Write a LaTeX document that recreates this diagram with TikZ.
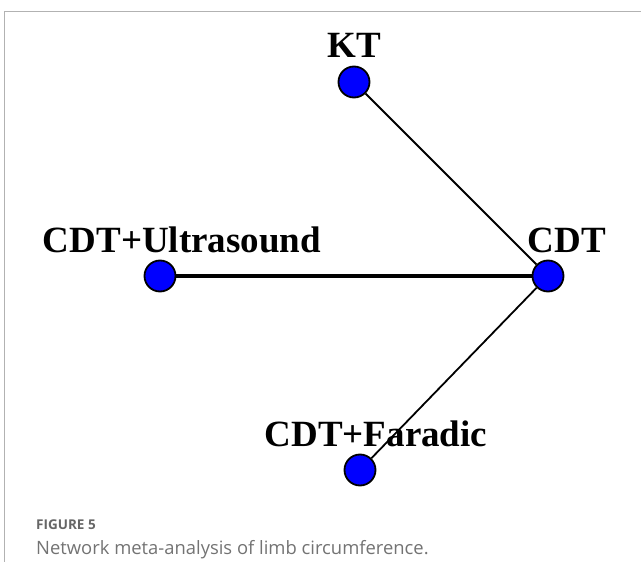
\documentclass[tikz,border=0pt]{standalone}
\usepackage{fontspec}
\setmainfont{Liberation Serif}
\newfontfamily\capfont{Open Sans}
\usepackage{tikz}

\begin{document}
\begin{tikzpicture}[x=1pt,y=-1pt,
    trt/.style={circle, draw=black, line width=1.8pt, fill=blue, minimum size=31pt, inner sep=0pt},
    lbl/.style={font=\fontsize{37}{40}\selectfont\bfseries, inner sep=0pt},
    captext/.style={inner sep=0pt, anchor=west}]
    \useasboundingbox (0,0) rectangle (641,562);
    \draw [black!30, line width=1.2pt] (4.5,562) -- (4.5,11.5) -- (641,11.5);
    % treatments
    \node [trt] (kt) at (354,82) {};
    \node [trt] (cdt) at (548,276) {};
    \node [trt] (us) at (160,276) {};
    \node [trt] (fd) at (360,470) {};
    % comparisons
    \draw [line width=1.8pt] (kt) -- (cdt);
    \draw [line width=3.6pt] (us) -- (cdt);
    \draw [line width=1.8pt] (fd) -- (cdt);
    % names
    \node [lbl] (ktname) at (354,45) {KT};
    \node [lbl] (cdtname) at (567,240) {CDT};
    \node [lbl] (usname) at (182,240) {CDT+Ultrasound};
    \node [lbl] (fdname) at (376,434) {CDT+Faradic};
    % caption
    \node [captext, text=black!60, font=\capfont\bfseries\fontsize{13.5}{16}\selectfont] (fig) at (36,525) {FIGURE 5};
    \node [captext, text=black!55, font=\capfont\fontsize{18.4}{20}\selectfont] (title) at (36,550) {Network meta-analysis of limb circumference.};
\end{tikzpicture}
\end{document}
